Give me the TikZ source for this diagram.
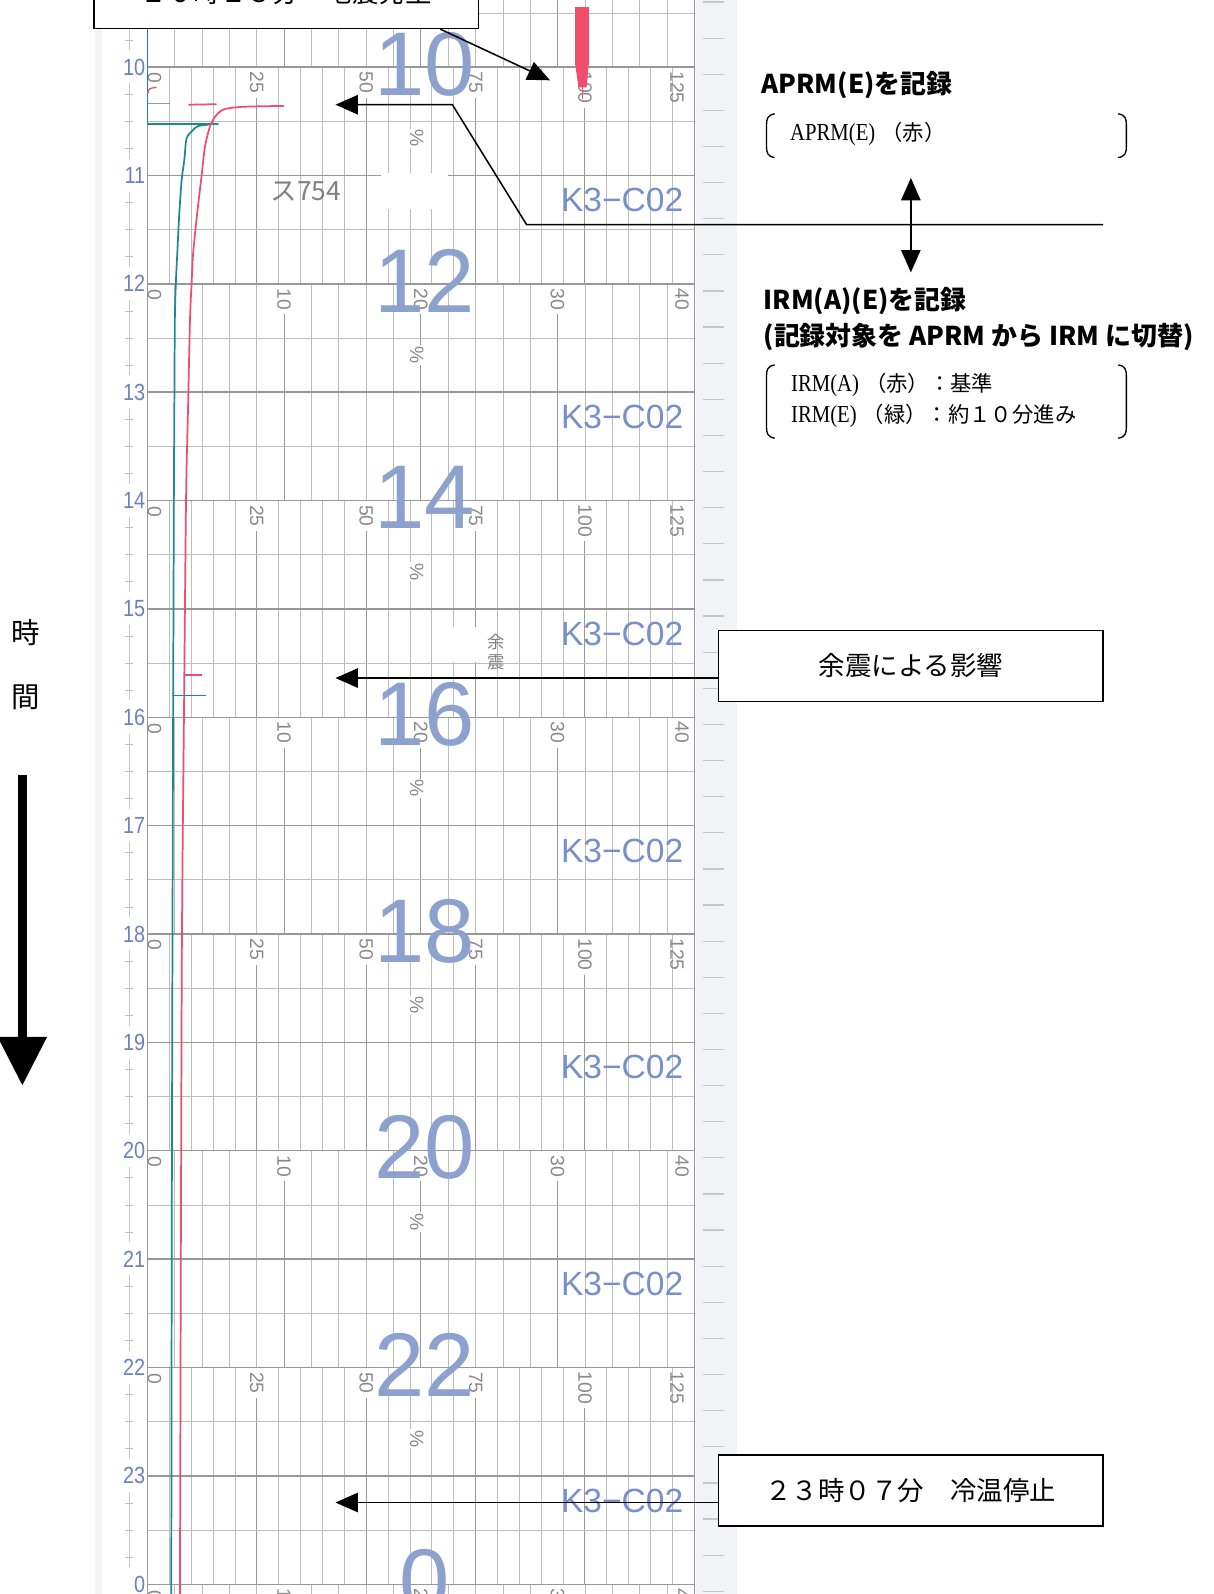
\documentclass[tikz,border=0pt]{standalone}
\usepackage{fontspec}
\setmainfont{Liberation Serif}
\setsansfont{Liberation Sans}
\newfontfamily\jp{Noto Sans CJK JP}
\newfontfamily\serc[FakeStretch=0.85]{Liberation Serif}
\newfontfamily\chs{Liberation Sans}
\newfontfamily\chsn[FakeStretch=0.85]{Liberation Sans}
\usetikzlibrary{arrows.meta,calc}
\definecolor{gridc}{HTML}{BDBDBD}
\definecolor{gridd}{HTML}{989898}
\definecolor{labc}{HTML}{8A8A8A}
\definecolor{bignum}{HTML}{8DA1CE}
\definecolor{hourc}{HTML}{6A82BD}
\definecolor{kcode}{HTML}{7890C9}
\definecolor{tealc}{HTML}{1F8A8E}
\definecolor{redc}{HTML}{F04D6C}
\definecolor{stripc}{HTML}{F1F3F7}
\tikzset{
  gl/.style={draw=gridc,line width=0.8pt},
  gh/.style={draw=gridd,line width=1pt},
  hrl/.style={draw=gridd,line width=1.4pt},
  scl/.style={font=\chs\fontsize{19}{19}\selectfont,text=labc,rotate=-90,inner sep=0},
  hourlab/.style={font=\chsn\fontsize{23}{23}\selectfont,text=hourc,anchor=east,inner sep=0},
  bignumber/.style={font=\chs\fontsize{89}{89}\selectfont,text=bignum,inner sep=0},
  kc/.style={font=\chs\fontsize{33}{33}\selectfont,text=kcode,inner sep=0},
  trace/.style={line width=1.7pt,line join=round,line cap=round},
  conn/.style={line width=1.5pt,-{Triangle[length=22pt 0,width=19pt 0]}},
  dconn/.style={line width=1.5pt,{Triangle[length=22pt 0,width=19pt 0]}-{Triangle[length=22pt 0,width=19pt 0]}},
  callout/.style={draw,line width=1.5pt,fill=white,minimum width=378pt,minimum height=70pt,inner sep=0,font=\jp\fontsize{26}{30}\selectfont},
  titletext/.style={anchor=west,inner sep=0,font=\jp\bfseries\fontsize{25.5}{30}\selectfont},
  bracketline/.style={line width=1.3pt},
  hand/.style={text=black!50,inner sep=0},
}
\newcommand{\blockA}[1]{%
  \foreach \i in {1,...,24}{\pgfmathtruncatemacro\m{mod(\i,5)}\pgfmathsetmacro\xx{145+\i*21.52}\ifnum\m>0 \draw[gl] (\xx,#1) -- (\xx,#1+213.2);\fi}
  \foreach \i/\lab/\cy/\ls in {5/25/15/30,10/50/15/30,15/75/15/30,20/100/20/40}{%
    \pgfmathsetmacro\xx{145+\i*21.52}%
    \draw[gh] (\xx,#1+\ls) -- (\xx,#1+213.2);
    \node[scl] at (\xx,#1+\cy) {\lab};}
  \draw[gl] (145,#1+53.3) -- (683,#1+53.3);
  \draw[gl] (145,#1+159.9) -- (683,#1+159.9);
  \draw[hrl] (145,#1) -- (683,#1);
  \draw[hrl] (145,#1+106.6) -- (683,#1+106.6);
  \draw[hrl] (145,#1) -- (145,#1+213.2);
  \draw[hrl] (683,#1) -- (683,#1+213.2);
  \node[scl] at (152,#1+11) {0};
  \node[scl] at (666,#1+20) {125};
}
\newcommand{\blockB}[1]{%
  \foreach \i in {1,...,19}{\pgfmathtruncatemacro\m{mod(\i,5)}\pgfmathsetmacro\xx{145+\i*26.9}\ifnum\m>0 \draw[gl] (\xx,#1) -- (\xx,#1+213.2);\fi}
  \foreach \i/\lab in {5/10,10/20,15/30}{%
    \pgfmathsetmacro\xx{145+\i*26.9}%
    \draw[gh] (\xx,#1+30) -- (\xx,#1+213.2);
    \node[scl] at (\xx,#1+15) {\lab};}
  \draw[gl] (145,#1+53.3) -- (683,#1+53.3);
  \draw[gl] (145,#1+159.9) -- (683,#1+159.9);
  \draw[hrl] (145,#1) -- (683,#1);
  \draw[hrl] (145,#1+106.6) -- (683,#1+106.6);
  \draw[hrl] (145,#1) -- (145,#1+213.2);
  \draw[hrl] (683,#1) -- (683,#1+213.2);
  \node[scl] at (152,#1+11) {0};
  \node[scl] at (671,#1+15) {40};
}
\begin{document}
\begin{tikzpicture}[x=1pt,y=-1pt]
\useasboundingbox (0,0) rectangle (1194,1568);
\fill[white] (0,0) rectangle (1194,1568);
% paper
\fill[stripc] (685,0) rectangle (725,1568);
\fill[black!4] (93,0) rectangle (100,1568);
\foreach \n in {0,...,44}{\draw[black!22,line width=1.2pt] (692,2+\n*35.53) -- (712,2+\n*35.53);}
% left time ticks
\foreach \h in {9,...,23}{%
  \pgfmathsetmacro\yy{66+(\h-10)*106.6}%
  \draw[black!22,line width=0.8pt] (127,\yy+16) -- (127,\yy+90);
  \foreach \k in {1,2,3}{\draw[black!25,line width=0.8pt] (123,\yy+\k*26.65) -- (131,\yy+\k*26.65);}
}
% grid blocks
\blockB{-147.2}
\blockA{66}
\blockB{279.2}
\blockA{492.4}
\blockB{705.6}
\blockA{918.8}
\blockB{1132}
\blockA{1345.2}
\blockB{1558.4}
% big numerals and codes
\foreach \h in {10,12,14,16,18,20,22}{%
  \pgfmathsetmacro\yy{66+(\h-10)*106.6}%
  \node[bignumber] at (418,\yy-3) {\h};
  \node[scl,fill=white,inner sep=1pt] at (410,\yy+70) {\%};
  \node[kc] at (612,\yy+131) {K3−C02};
}
\node[bignumber] at (418,1555.4) {0};
% hour labels
\foreach \h in {10,...,23}{%
  \pgfmathsetmacro\yy{66+(\h-10)*106.6}%
  \node[hourlab] at (143,\yy) {\h};
}
\node[hourlab] at (143,1558.4) {0};
% redactions and handwriting
\fill[white] (375,170) rectangle (441,206);
\fill[white] (428,617) rectangle (469,651);
\node[hand,font=\jp\fontsize{26}{26}\selectfont] (hw1) at (301,188) {ス754};
\node[hand,font=\jp\fontsize{17}{20}\selectfont,align=center] (hw2) at (488,641) {余\\震};
% traces
\fill[redc] (566,7) rectangle (579,64);
\fill[redc] (566,64) -- (579,64) -- (577,86) -- (569,86) -- cycle;
\draw[redc,line width=1.2pt] (573,86) -- (573,97);
\draw[trace,tealc] (145,-2) -- (145,122.3) -- (214.4,122.3);
\draw[trace,tealc] plot[smooth,tension=0.5] coordinates {(205,122.6) (195,124) (190,127.9) (183.6,136) (181.3,157.4) (178.7,177) (176.4,209.6) (174.4,249) (173,278) (172,314.7) (171.5,400) (171,500) (170,800) (169,1200) (168.5,1570)};
\draw[trace,redc] plot[smooth,tension=0.5] coordinates {(278.7,104.2) (240,105) (222,107) (216.4,109.8) (211.5,114.8) (206.5,124.6) (201.6,144.3) (198.4,172) (194,209.6) (190,249) (188.5,278) (186.9,314.7) (185,400) (183,492) (181,700) (179,918) (178,1200) (177,1570)};
\draw[redc,line width=1.3pt] (145.5,92) .. controls (146,87) .. (154,86);
\draw[black!40,line width=0.9pt] (146,101.6) -- (167,101.6);
\draw[trace,redc] (186,103) -- (212.5,102.5);
\draw[redc,line width=1.2pt] (181,664) -- (199,664);
\draw[tealc,line width=1.2pt] (169,684) -- (203,684);
% annotations
\node[callout] (quake) at (281.5,-7) {１０時１３分　地震発生};
\coordinate (quake-tip) at (541,79);
\draw[conn] ($(quake.south west)!0.9!(quake.south east)$) -- (quake-tip);

\node[titletext] (aprm-title) at (749,84) {APRM(E)を記録};
\draw[bracketline] (762,112) .. controls (755,113) and (754,117) .. (754,123) -- (754,144) .. controls (754,150) and (755,154) .. (762,155);
\draw[bracketline] (1100,112) .. controls (1107,113) and (1108,117) .. (1108,123) -- (1108,144) .. controls (1108,150) and (1107,154) .. (1100,155);
\node[anchor=west,inner sep=0] (aprm-list) at (777,132) {{\serc\fontsize{24}{26}\selectfont APRM(E)}\hspace{6pt}{\jp\fontsize{21}{24}\selectfont （赤）}};

\coordinate (sw-top) at (896,175);
\coordinate (sw-bot) at (896,268);
\draw[dconn] (sw-top) -- (sw-bot);
\coordinate (aprm-r) at (1085,221);
\coordinate (aprm-tip) at (330,103);
\draw[conn] (aprm-r) -- (518,221) -- (445,103) -- (aprm-tip);

\node[titletext] (irm-title) at (751,296) {IRM(A)(E)を記録};
\node[titletext] (irm-sub) at (751,332) {(記録対象を APRM から IRM に切替)};
\draw[bracketline] (762,359) .. controls (755,360) and (754,364) .. (754,370) -- (754,420) .. controls (754,426) and (755,430) .. (762,431);
\draw[bracketline] (1100,359) .. controls (1107,360) and (1108,364) .. (1108,370) -- (1108,420) .. controls (1108,426) and (1107,430) .. (1100,431);
\node[anchor=west,inner sep=0] (irm-a) at (778,379) {{\serc\fontsize{24}{26}\selectfont IRM(A)}\hspace{6pt}{\jp\fontsize{21}{24}\selectfont （赤）：基準}};
\node[anchor=west,inner sep=0] (irm-e) at (778,409) {{\serc\fontsize{24}{26}\selectfont IRM(E)}\hspace{6pt}{\jp\fontsize{21}{24}\selectfont （緑）：約１０分進み}};

\node[callout] (aftershock) at (896,655) {余震による影響};
\coordinate (as-tip) at (330,667);
\draw[conn] ([yshift=-12pt]aftershock.west) -- (as-tip);

\node[callout] (shutdown) at (896,1466) {２３時０７分　冷温停止};
\coordinate (sd-tip) at (330,1478);
\draw[conn] ([yshift=-12pt]shutdown.west) -- (sd-tip);

\node[font=\jp\fontsize{28}{28}\selectfont,inner sep=0] (ji) at (25,622) {時};
\node[font=\jp\fontsize{28}{28}\selectfont,inner sep=0] (kan) at (25,686) {間};
\coordinate (ta-s) at (22,762);
\coordinate (ta-e) at (22,1068);
\draw[line width=9pt,-{Triangle[length=48pt 0,width=46pt 0]}] (ta-s) -- (ta-e);
\end{tikzpicture}
\end{document}
